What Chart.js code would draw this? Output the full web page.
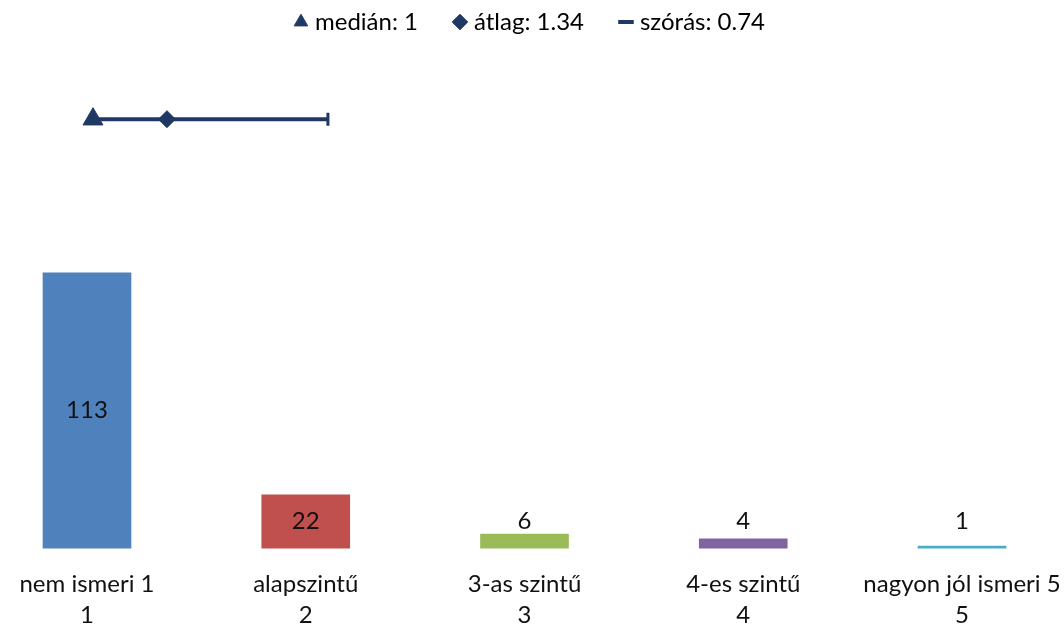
<!DOCTYPE html>
<html>
<head>
<meta charset="utf-8">
<script src="https://cdn.jsdelivr.net/npm/chart.js@4/dist/chart.umd.min.js"></script>
<style>
  html, body { margin: 0; padding: 0; background: #fff; }
  #wrap { width: 1064px; height: 628px; }
</style>
</head>
<body>
<div id="wrap"><canvas id="cFreq"></canvas></div>
<script>
// ── ADATOK ──
const kategoriak = ["nem ismeri 1", "alapszintű", "3-as szintű", "4-es szintű", "nagyon jól ismeri 5"];
const kodok      = [1, 2, 3, 4, 5];
const gyakorisag = [113, 22, 6, 4, 1];
const oszlopSzin = ["#4f81bd", "#c0504d", "#9bbb59", "#8064a2", "#4bacc6"];

const median = 1;
const atlag  = 1.34;
const szoras = 0.74;

const SOTET = "#1f3864";
const FONT  = "Lato";

/* szórás szakasz: átlag ± szórás, a skála elejére vágva */
const sdBal  = Math.max(atlag - szoras, kodok[0]);
const sdJobb = atlag + szoras;
const SOR_Y  = 0.851; // az összesítő sor magassága (y2 tengelyen)

/* ── ADATCÍMKÉK ── */
const cimkek = {
  id: "cimkek",
  afterDatasetsDraw(chart) {
    const meta = chart.getDatasetMeta(0);
    const ctx = chart.ctx;
    ctx.save();
    ctx.font = "24px " + FONT;
    ctx.fillStyle = "#111";
    ctx.textAlign = "center";
    ctx.textBaseline = "middle";
    meta.data.forEach((bar, i) => {
      const y = Math.min((bar.y + bar.base) / 2, bar.base - 27);
      ctx.fillText(String(gyakorisag[i]), bar.x, y);
    });
    ctx.restore();
  }
};

new Chart(document.getElementById("cFreq"), {
  type: "bar",
  data: {
    datasets: [
      {
        type: "bar",
        data: kodok.map((k, i) => ({ x: k, y: gyakorisag[i] })),
        backgroundColor: oszlopSzin,
        grouped: false,
        barPercentage: 1,
        categoryPercentage: 1,
        maxBarThickness: 88,
        xAxisID: "x", yAxisID: "y",
        order: 2
      },
      {
        type: "line",
        label: "szórás",
        data: [{ x: sdBal, y: SOR_Y }, { x: sdJobb, y: SOR_Y }],
        borderColor: SOTET, backgroundColor: SOTET,
        borderWidth: 4,
        pointStyle: "line",
        rotation: 90,
        pointRadius: [0, 6.5],
        pointBorderWidth: 3,
        xAxisID: "x2", yAxisID: "y2",
        order: 1
      },
      {
        type: "scatter",
        label: "átlag",
        data: [{ x: atlag, y: SOR_Y }],
        pointStyle: "rectRot",
        pointRadius: 8.5,
        backgroundColor: SOTET, borderColor: SOTET,
        xAxisID: "x2", yAxisID: "y2",
        order: 0
      },
      {
        type: "scatter",
        label: "medián",
        data: [{ x: median, y: SOR_Y }],
        pointStyle: "triangle",
        pointRadius: 11.5,
        backgroundColor: SOTET, borderColor: SOTET,
        xAxisID: "x2", yAxisID: "y2",
        order: 0
      }
    ]
  },
  options: {
    responsive: true,
    maintainAspectRatio: false,
    animation: false,
    layout: { autoPadding: false, padding: { left: 0, right: 0, top: -30, bottom: -15 } },
    plugins: {
      tooltip: { enabled: false },
      legend: {
        position: "top",
        labels: {
          usePointStyle: true,
          boxWidth: 4,
          boxHeight: 11,
          color: "#111",
          font: { family: FONT, size: 24 },
          padding: 40,
          generateLabels: () => [
            { text: "medián: " + median, pointStyle: "triangle", fillStyle: SOTET, strokeStyle: SOTET, lineWidth: 1 },
            { text: "átlag: " + atlag, pointStyle: "rectRot", fillStyle: SOTET, strokeStyle: SOTET, lineWidth: 1 },
            { text: "szórás: " + szoras, pointStyle: "line", fillStyle: SOTET, strokeStyle: SOTET, lineWidth: 4 }
          ]
        }
      }
    },
    scales: {
      x: {
        type: "linear",
        offset: false,
        min: 0.6023, max: 5.4663,
        grid: { display: false, offset: false },
        border: { display: false },
        afterBuildTicks: axis => { axis.ticks = kodok.map(k => ({ value: k })); },
        afterFit: axis => { axis.paddingLeft = 0; axis.paddingRight = 0; },
        ticks: {
          autoSkip: false,
          maxRotation: 0,
          padding: 12,
          color: "#111",
          font: { family: FONT, size: 24, lineHeight: 1.3 },
          callback: v => [kategoriak[kodok.indexOf(v)], String(v)]
        }
      },
      x2: {
        type: "linear",
        display: false,
        offset: false,
        min: 0.5724, max: 5.464
      },
      y: {
        display: false,
        min: 0,
        max: 206.8
      },
      y2: {
        display: false,
        min: 0, max: 1
      }
    }
  },
  plugins: [cimkek]
});
</script>
</body>
</html>
